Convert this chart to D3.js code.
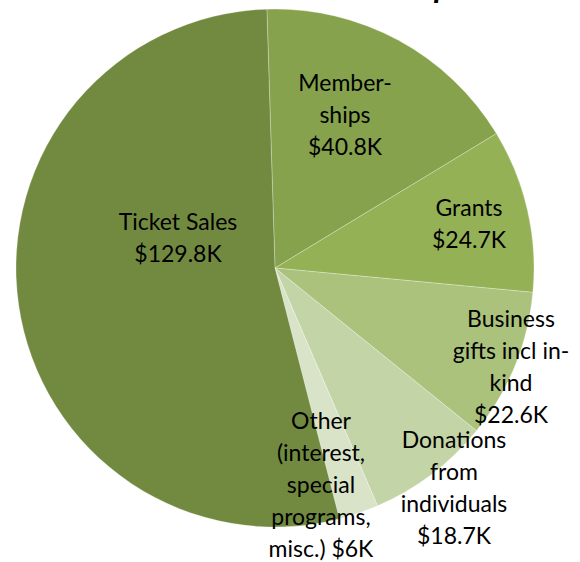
<!DOCTYPE html>
<html>
<head>
<meta charset="utf-8">
<script src="https://cdn.jsdelivr.net/npm/d3@7"></script>
<style>
  html, body { margin: 0; padding: 0; background: #ffffff; }
  svg { display: block; }
</style>
</head>
<body>
<svg id="chart" width="580" height="562"></svg>
<script>
// ---- data ----
const categories = ["Memberships", "Grants", "Business gifts incl in-kind", "Donations from individuals", "Other (interest, special programs, misc.)", "Ticket Sales"];
const values = [40.8, 24.7, 22.6, 18.7, 6.0, 129.8];
const labelLines = [
  ["Member-", "ships", "$40.8K"],
  ["Grants", "$24.7K"],
  ["Business", "gifts incl in-", "kind", "$22.6K"],
  ["Donations", "from", "individuals", "$18.7K"],
  ["Other", "(interest,", "special", "programs,", "misc.) $6K"],
  ["Ticket Sales", "$129.8K"]
];
const colors = ["#86a24d", "#95b156", "#aac27b", "#c3d4a7", "#d9e3c8", "#728a40"];
const titleText = "Revenue Snapshot";

// ---- layout (not data) ----
const W = 580, H = 562;
const cx = 275, cy = 268, R = 259;
const startRad = -1.8 * Math.PI / 180;
const lineH = 32;
// label block anchors: [x, first baseline y]
const labelAnchors = [[345, 91], [469, 216], [511, 327], [454, 448], [321, 429], [178, 230]];

const svg = d3.select("#chart");
const g = svg.append("g").attr("transform", `translate(${cx},${cy})`);

const pie = d3.pie().sort(null).value(d => d.v)
  .startAngle(startRad).endAngle(startRad + 2 * Math.PI);
const data = categories.map((c, i) => ({ c, v: values[i], i }));
const arcs = pie(data);
const arc = d3.arc().innerRadius(0).outerRadius(R);

g.selectAll("path.slice").data(arcs).join("path")
  .attr("class", "slice")
  .attr("d", arc)
  .attr("fill", d => colors[d.data.i])
  .attr("stroke", "rgba(255,255,255,0.35)")
  .attr("stroke-width", 0.8)
  .attr("stroke-linejoin", "round");

const font = "Lato, 'Open Sans', sans-serif";
const lbl = svg.append("g");
arcs.forEach(d => {
  const i = d.data.i;
  const [ax, ay] = labelAnchors[i];
  const t = lbl.append("text")
    .attr("text-anchor", "middle")
    .attr("font-family", font)
    .attr("font-size", 23)
    .attr("fill", "#000");
  labelLines[i].forEach((ln, k) => {
    t.append("tspan").attr("x", ax).attr("y", ay + k * lineH).text(ln);
  });
});

// title (mostly above the visible area, only a descender shows, as in the reference)
const title = svg.append("text")
  .attr("font-family", font)
  .attr("font-weight", "bold")
  .attr("font-style", "italic")
  .attr("font-size", 32)
  .attr("y", -2.5)
  .attr("x", 0)
  .text(titleText);
const pIdx = titleText.lastIndexOf("p");
const off = title.node().getSubStringLength(0, pIdx);
title.attr("x", 434 - off);
</script>
</body>
</html>
